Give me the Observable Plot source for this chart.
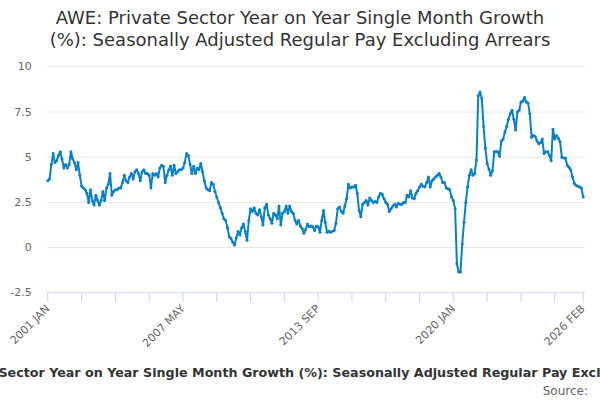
<!DOCTYPE html>
<html><head><meta charset="utf-8">
<script src="https://cdn.jsdelivr.net/npm/d3@7"></script>
<script src="https://cdn.jsdelivr.net/npm/@observablehq/plot@0.6"></script>
<style>
html,body{margin:0;padding:0;background:#fff;}
#wrap{position:relative;width:600px;height:400px;overflow:hidden;font-family:"DejaVu Sans",sans-serif;}
#title{position:absolute;top:7px;left:0;width:600px;text-align:center;font-size:18px;line-height:22px;color:#333;}
#chart{position:absolute;top:0;left:0;}
#chart svg{overflow:visible;}
#caption{position:absolute;top:365px;left:300px;transform:translateX(-50%);white-space:nowrap;font-weight:bold;font-size:12.7px;color:#333;}
#source{position:absolute;top:384px;right:12px;font-size:12px;color:#666;}
</style></head>
<body>
<div id="wrap">
  <div id="title">AWE: Private Sector Year on Year Single Month Growth<br>(%): Seasonally Adjusted Regular Pay Excluding Arrears</div>
  <div id="chart"></div>
  <div id="caption">AWE: Private Sector Year on Year Single Month Growth (%): Seasonally Adjusted Regular Pay Excluding Arrears</div>
  <div id="source">Source:</div>
</div>
<script>
// Monthly values, 2001 JAN .. 2026 FEB
const values = [
3.7,3.8,4.6,5.2,4.7,4.8,5.1,5.3,4.9,4.4,4.6,4.4,
4.6,5.3,4.9,4.7,4.3,4.7,4.0,3.4,3.3,3.2,3.0,2.5,
3.2,2.6,2.35,2.9,2.6,2.35,2.6,3.1,2.6,3.3,3.5,4.1,
2.9,3.1,3.2,3.2,3.3,3.3,3.6,4.0,3.7,3.6,3.9,4.1,
3.8,4.2,4.3,4.1,3.7,4.2,4.3,4.1,4.1,4.0,3.3,4.1,
4.0,4.1,3.9,4.4,4.55,4.5,3.6,4.0,4.3,4.5,4.0,4.55,
4.1,4.2,4.3,4.3,4.4,4.7,5.2,5.1,4.6,4.1,4.5,4.1,
4.4,4.3,4.65,4.2,3.7,3.3,3.2,3.15,3.6,3.5,3.1,2.8,
2.5,2.2,1.9,1.6,1.5,1.1,0.6,0.5,0.3,0.15,0.55,0.9,
0.7,1.1,1.3,0.9,0.4,1.5,2.15,2.0,2.2,1.9,1.8,2.1,
1.7,1.25,2.2,2.4,1.8,1.6,1.35,1.9,1.8,1.6,2.3,1.25,
1.9,2.0,2.3,1.9,2.3,2.0,1.9,1.5,1.3,1.5,1.2,1.05,
0.8,1.0,1.3,1.15,1.2,1.15,0.95,1.2,1.15,0.85,1.5,2.05,
1.4,0.85,0.9,0.85,0.9,0.95,1.35,2.15,2.25,2.0,1.9,2.3,
2.7,3.5,3.3,3.35,3.35,3.45,3.0,2.05,1.7,2.4,2.5,2.6,
2.35,2.75,2.6,2.5,2.55,2.5,2.8,3.0,2.95,2.7,2.5,2.4,
2.0,2.15,2.3,2.4,2.25,2.45,2.4,2.4,2.5,2.5,2.9,2.8,
3.15,2.75,2.7,3.0,3.15,3.35,3.5,3.4,3.35,3.6,3.9,3.35,
3.7,3.8,3.9,4.0,4.1,3.9,3.6,3.6,3.3,3.25,3.2,2.8,
2.6,2.15,-0.9,-1.35,-1.35,0.2,1.4,2.5,3.35,4.0,4.3,4.0,
4.1,4.85,8.4,8.6,8.25,6.7,5.5,4.65,4.35,4.0,4.25,5.3,
5.3,5.3,5.05,5.9,6.0,6.4,6.7,7.1,7.4,7.6,7.1,6.5,
7.5,7.6,8.05,8.1,8.3,8.05,8.0,7.4,6.1,6.2,6.15,5.9,
5.75,5.8,6.0,5.2,5.3,5.3,5.1,4.8,6.55,6.0,6.2,6.05,
5.85,5.0,4.95,4.95,4.55,4.45,4.3,3.9,3.55,3.45,3.4,3.35,
3.3,2.8
];
const monthNames = ["JAN","FEB","MAR","APR","MAY","JUN","JUL","AUG","SEP","OCT","NOV","DEC"];
const startYear = 2001;
const yTicks = [-2.5, 0, 2.5, 5, 7.5, 10];
const labelIdx = [0, 76, 152, 228, 301];

const data = values.map((v, i) => ({i, v}));
const last = values.length - 1;
const tickIdx = d3.range(0, last, 19).concat([last]);
const monthLabel = i => `${startYear + Math.floor(i / 12)} ${monthNames[i % 12]}`;
const color = "#0a80c4";

const chart = Plot.plot({
  width: 600,
  height: 360,
  marginTop: 66.3,
  marginBottom: 67.7,
  marginLeft: 47.3,
  marginRight: 15,
  style: {fontFamily: "DejaVu Sans, sans-serif", fontSize: "11px", color: "#666", background: "transparent", overflow: "visible"},
  x: {domain: [0, last + 1.3], label: null},
  y: {domain: [-2.5, 10], label: null},
  marks: [
    Plot.ruleY(yTicks.filter(t => t > -2.5), {stroke: "#e6e6e6", strokeWidth: 1}),
    Plot.ruleY([-2.5], {stroke: "#ccd6eb", strokeWidth: 1}),
    Plot.axisX(tickIdx, {tickSize: 10, stroke: "#ccd6eb", tickFormat: () => ""}),
    Plot.axisX(labelIdx, {tickSize: 0, tickPadding: 14, tickRotate: -45, tickFormat: monthLabel, fill: "#666", fontSize: 11}),
    Plot.axisY(yTicks, {tickSize: 0, tickPadding: 16, fill: "#666", fontSize: 11, tickFormat: d => String(d)}),
    Plot.line(data, {x: "i", y: "v", stroke: color, strokeWidth: 2}),
    Plot.dot(data, {x: "i", y: "v", r: 1.5, fill: color})
  ]
});
document.getElementById("chart").appendChild(chart);
</script>
</body></html>
